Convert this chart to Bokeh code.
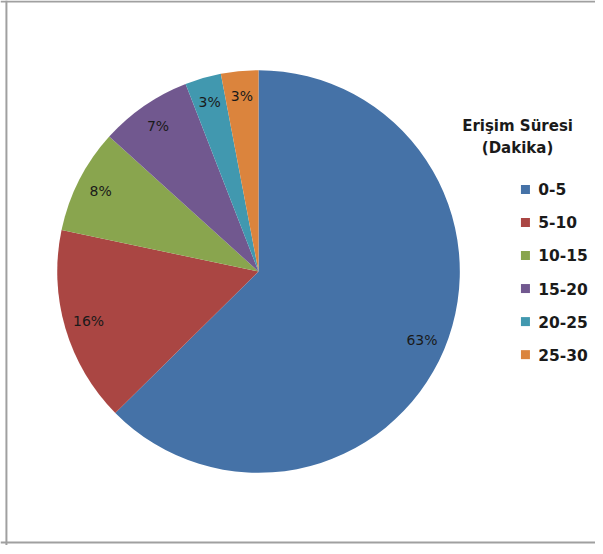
import math
from bokeh.plotting import figure
from bokeh.models import Range1d, Span, ColumnDataSource
from bokeh.core.properties import value
from bokeh.embed import file_html
from bokeh.resources import INLINE

# ---- data ----
categories = ["0-5", "5-10", "10-15", "15-20", "20-25", "25-30"]
shares = [62.6, 15.7, 8.4, 7.4, 2.9, 3.0]
colors = ["#4572A7", "#AA4643", "#89A54E", "#71588F", "#4198AF", "#DB843D"]
legend_title = ["Erişim Süresi", "(Dakika)"]

# ---- layout: data units follow the reference picture's pixels ----
RW, RH = 603, 554
W, H = 595, 545
p = figure(width=W, height=H, output_backend="svg", toolbar_location=None,
           x_range=Range1d(0, RW), y_range=Range1d(0, RH),
           min_border=0, outline_line_color=None)
p.axis.visible = False
p.grid.visible = False
p.background_fill_color = "white"
p.border_fill_color = "white"

def sy(y):
    return RH - y

cx, cy, r = 261.5, sy(275.5), 204.0
total = sum(shares)
starts, ends, lx, ly, labels = [], [], [], [], []
cum = 0.0
for s in shares:
    a0 = math.pi / 2 - 2 * math.pi * cum / total
    a1 = math.pi / 2 - 2 * math.pi * (cum + s) / total
    starts.append(a0)
    ends.append(a1)
    mid = (a0 + a1) / 2
    lx.append(cx + 0.88 * r * math.cos(mid))
    ly.append(cy + 0.88 * r * math.sin(mid))
    labels.append(f"{round(s)}%")
    cum += s

src = ColumnDataSource(dict(start=starts, end=ends, color=colors, cat=categories,
                            lx=lx, ly=ly, label=labels))
p.wedge(x=cx, y=cy, radius=r, start_angle="start", end_angle="end",
        direction="clock", fill_color="color", line_color=None, source=src)
p.text(x="lx", y="ly", text="label", source=src, text_font=value("DejaVu Sans"),
       text_font_size="14px", text_align="center", text_baseline="middle",
       text_color="#1a1a1a")

# ---- legend ----
tx = 524
p.text(x=[tx, tx], y=[sy(127.5), sy(150)], text=legend_title,
       text_font=value("DejaVu Sans"), text_font_style="bold", text_font_size="15px",
       text_align="center", text_baseline="middle", text_color="#1a1a1a")
ly0, dly = 192, 33.6
leg_y = [sy(ly0 + i * dly) for i in range(len(categories))]
p.scatter(x=[532] * len(categories), y=leg_y, marker="square", size=9,
          fill_color=colors, line_color=None)
p.text(x=[545] * len(categories), y=leg_y, text=categories,
       text_font=value("DejaVu Sans"), text_font_style="bold", text_font_size="15.5px",
       text_align="left", text_baseline="middle", text_color="#1a1a1a")

# ---- frame border ----
bc = "#a0a0a0"
p.add_layout(Span(location=6, dimension="height", line_color=bc, line_width=2))
p.add_layout(Span(location=sy(1), dimension="width", line_color=bc, line_width=2))
p.add_layout(Span(location=sy(551), dimension="width", line_color=bc, line_width=2))

open("out.html", "w").write(file_html(p, INLINE))
